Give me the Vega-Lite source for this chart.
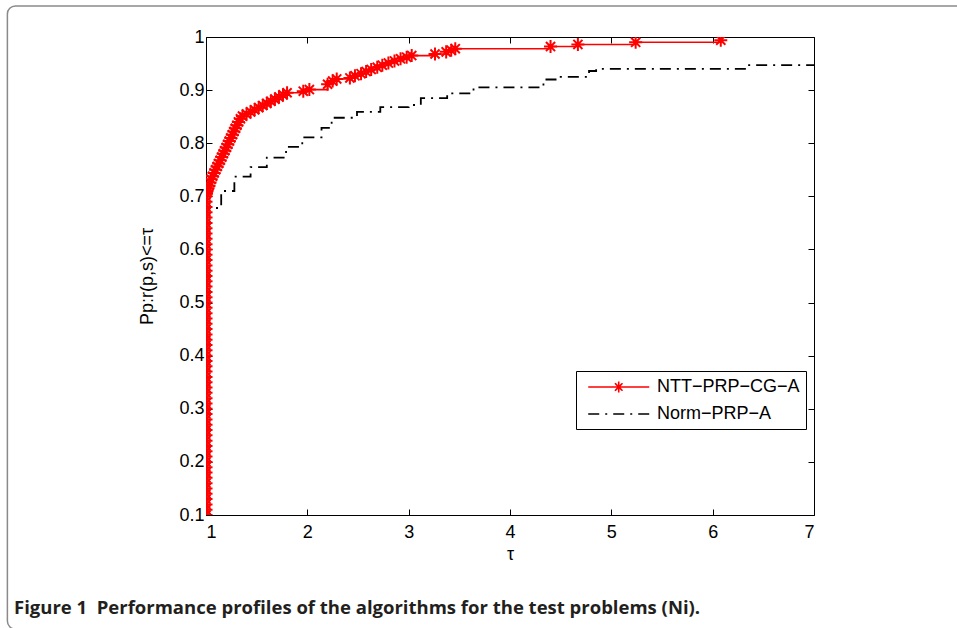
{
  "$schema": "https://vega.github.io/schema/vega-lite/v6.json",
  "width": 608,
  "height": 478,
  "autosize": {"type": "none"},
  "padding": {"left": 206, "top": 37, "right": 143, "bottom": 113},
  "background": "white",
  "config": {
    "view": {"stroke": "black", "strokeWidth": 1},
    "font": "Liberation Sans",
    "axis": {
      "domain": false, "grid": false, "tickColor": "black", "tickSize": -6, "tickWidth": 1,
      "labelColor": "black", "labelFont": "Liberation Sans", "labelFontSize": 18,
      "titleFont": "Liberation Sans", "titleFontSize": 18, "titleFontWeight": "normal", "titleColor": "black"
    }
  },
  "title": {
    "text": "Figure 1\u00a0\u00a0Performance profiles of the algorithms for the test problems (Ni).",
    "orient": "bottom", "anchor": "start", "frame": "group", "offset": -31, "dx": -192,
    "font": "Open Sans", "fontSize": 18.5, "fontWeight": "bold", "color": "#231f20"
  },
  "datasets": {
    "ntt": [
      {"tau": 1, "rho": 0.10}, {"tau": 1, "rho": 0.11}, {"tau": 1, "rho": 0.12}, {"tau": 1, "rho": 0.13}, {"tau": 1, "rho": 0.14},
      {"tau": 1, "rho": 0.15}, {"tau": 1, "rho": 0.16}, {"tau": 1, "rho": 0.17}, {"tau": 1, "rho": 0.18}, {"tau": 1, "rho": 0.19},
      {"tau": 1, "rho": 0.20}, {"tau": 1, "rho": 0.21}, {"tau": 1, "rho": 0.22}, {"tau": 1, "rho": 0.23}, {"tau": 1, "rho": 0.24},
      {"tau": 1, "rho": 0.25}, {"tau": 1, "rho": 0.26}, {"tau": 1, "rho": 0.27}, {"tau": 1, "rho": 0.28}, {"tau": 1, "rho": 0.29},
      {"tau": 1, "rho": 0.30}, {"tau": 1, "rho": 0.31}, {"tau": 1, "rho": 0.32}, {"tau": 1, "rho": 0.33}, {"tau": 1, "rho": 0.34},
      {"tau": 1, "rho": 0.35}, {"tau": 1, "rho": 0.36}, {"tau": 1, "rho": 0.37}, {"tau": 1, "rho": 0.38}, {"tau": 1, "rho": 0.39},
      {"tau": 1, "rho": 0.40}, {"tau": 1, "rho": 0.41}, {"tau": 1, "rho": 0.42}, {"tau": 1, "rho": 0.43}, {"tau": 1, "rho": 0.44},
      {"tau": 1, "rho": 0.45}, {"tau": 1, "rho": 0.46}, {"tau": 1, "rho": 0.47}, {"tau": 1, "rho": 0.48}, {"tau": 1, "rho": 0.49},
      {"tau": 1, "rho": 0.50}, {"tau": 1, "rho": 0.51}, {"tau": 1, "rho": 0.52}, {"tau": 1, "rho": 0.53}, {"tau": 1, "rho": 0.54},
      {"tau": 1, "rho": 0.55}, {"tau": 1, "rho": 0.56}, {"tau": 1, "rho": 0.57}, {"tau": 1, "rho": 0.58}, {"tau": 1, "rho": 0.59},
      {"tau": 1, "rho": 0.60}, {"tau": 1, "rho": 0.61}, {"tau": 1, "rho": 0.62}, {"tau": 1, "rho": 0.63}, {"tau": 1, "rho": 0.64},
      {"tau": 1, "rho": 0.65}, {"tau": 1, "rho": 0.66}, {"tau": 1, "rho": 0.67}, {"tau": 1, "rho": 0.68}, {"tau": 1, "rho": 0.69},
      {"tau": 1, "rho": 0.70},
      {"tau": 1.005, "rho": 0.705}, {"tau": 1.01, "rho": 0.71}, {"tau": 1.02, "rho": 0.715}, {"tau": 1.03, "rho": 0.72},
      {"tau": 1.04, "rho": 0.726}, {"tau": 1.05, "rho": 0.732}, {"tau": 1.065, "rho": 0.738}, {"tau": 1.08, "rho": 0.744},
      {"tau": 1.095, "rho": 0.75}, {"tau": 1.11, "rho": 0.756}, {"tau": 1.125, "rho": 0.762}, {"tau": 1.14, "rho": 0.768},
      {"tau": 1.155, "rho": 0.774}, {"tau": 1.17, "rho": 0.78}, {"tau": 1.185, "rho": 0.786}, {"tau": 1.2, "rho": 0.792},
      {"tau": 1.215, "rho": 0.798}, {"tau": 1.23, "rho": 0.804}, {"tau": 1.245, "rho": 0.81}, {"tau": 1.26, "rho": 0.816},
      {"tau": 1.275, "rho": 0.822}, {"tau": 1.29, "rho": 0.828}, {"tau": 1.305, "rho": 0.834}, {"tau": 1.32, "rho": 0.84},
      {"tau": 1.34, "rho": 0.846}, {"tau": 1.36, "rho": 0.851}, {"tau": 1.4, "rho": 0.855}, {"tau": 1.44, "rho": 0.859},
      {"tau": 1.48, "rho": 0.863}, {"tau": 1.52, "rho": 0.867}, {"tau": 1.56, "rho": 0.871}, {"tau": 1.6, "rho": 0.875},
      {"tau": 1.64, "rho": 0.879}, {"tau": 1.68, "rho": 0.883}, {"tau": 1.72, "rho": 0.887}, {"tau": 1.76, "rho": 0.891},
      {"tau": 1.8, "rho": 0.895}, {"tau": 1.96, "rho": 0.898}, {"tau": 2.02, "rho": 0.901}, {"tau": 2.2, "rho": 0.911},
      {"tau": 2.25, "rho": 0.917}, {"tau": 2.29, "rho": 0.921}, {"tau": 2.42, "rho": 0.923}, {"tau": 2.47, "rho": 0.927},
      {"tau": 2.53, "rho": 0.931}, {"tau": 2.58, "rho": 0.935}, {"tau": 2.63, "rho": 0.939}, {"tau": 2.69, "rho": 0.943},
      {"tau": 2.74, "rho": 0.947}, {"tau": 2.8, "rho": 0.951}, {"tau": 2.86, "rho": 0.955}, {"tau": 2.92, "rho": 0.959},
      {"tau": 2.98, "rho": 0.962}, {"tau": 3.03, "rho": 0.965}, {"tau": 3.26, "rho": 0.968}, {"tau": 3.37, "rho": 0.972},
      {"tau": 3.42, "rho": 0.975}, {"tau": 3.46, "rho": 0.978}, {"tau": 4.4, "rho": 0.982}, {"tau": 4.67, "rho": 0.986},
      {"tau": 5.24, "rho": 0.99}, {"tau": 6.08, "rho": 0.994}
    ],
    "norm": [
      {"tau": 1, "rho": 0.1}, {"tau": 1, "rho": 0.678}, {"tau": 1.15, "rho": 0.71}, {"tau": 1.28, "rho": 0.737},
      {"tau": 1.44, "rho": 0.755}, {"tau": 1.6, "rho": 0.773}, {"tau": 1.79, "rho": 0.793}, {"tau": 1.95, "rho": 0.811},
      {"tau": 2.14, "rho": 0.829}, {"tau": 2.24, "rho": 0.848}, {"tau": 2.49, "rho": 0.859}, {"tau": 2.72, "rho": 0.868},
      {"tau": 3.0, "rho": 0.872}, {"tau": 3.12, "rho": 0.885}, {"tau": 3.38, "rho": 0.894}, {"tau": 3.64, "rho": 0.905},
      {"tau": 4.33, "rho": 0.92}, {"tau": 4.5, "rho": 0.925}, {"tau": 4.78, "rho": 0.936}, {"tau": 4.85, "rho": 0.94},
      {"tau": 6.35, "rho": 0.947}, {"tau": 7, "rho": 0.947}
    ]
  },
  "resolve": {"axis": {"x": "independent", "y": "independent"}},
  "layer": [
    {
      "data": {"values": [{}]},
      "mark": {"type": "rect", "fill": null, "stroke": "#8a8a8a", "strokeWidth": 1.5, "cornerRadius": 8, "clip": false},
      "encoding": {
        "x": {"datum": -0.96, "type": "quantitative", "scale": {"domain": [1, 7], "nice": false, "zero": false}, "axis": null},
        "x2": {"datum": 8.6},
        "y": {"datum": 1.0584, "type": "quantitative", "scale": {"domain": [0.1, 1], "nice": false, "zero": false}, "axis": null},
        "y2": {"datum": -0.1147}
      }
    },
    {
      "data": {"name": "norm"},
      "transform": [{"calculate": "'Norm−PRP−A'", "as": "series"}],
      "mark": {"type": "line", "interpolate": "step-after", "strokeWidth": 1.8, "clip": true},
      "encoding": {
        "x": {"field": "tau", "type": "quantitative", "scale": {"domain": [1, 7], "nice": false, "zero": false},
              "axis": {"orient": "bottom", "values": [1, 2, 3, 4, 5, 6, 7], "title": "τ", "labelPadding": 14, "titlePadding": 4}},
        "y": {"field": "rho", "type": "quantitative", "scale": {"domain": [0.1, 1], "nice": false, "zero": false},
              "axis": {"orient": "left", "values": [0.1, 0.2, 0.3, 0.4, 0.5, 0.6, 0.7, 0.8, 0.9, 1], "format": "~g", "title": "Pp:r(p,s)<=τ", "labelPadding": 8, "titlePadding": 22}},
        "order": {"field": "rho", "type": "quantitative"},
        "color": {"field": "series", "type": "nominal",
          "scale": {"domain": ["NTT−PRP−CG−A", "Norm−PRP−A"], "range": ["#ff0000", "#000000"]},
          "legend": {
            "orient": "none", "legendX": 370, "legendY": 334, "title": null,
            "strokeColor": "black", "fillColor": "white", "padding": 6,
            "labelFont": "Liberation Sans", "labelFontSize": 18, "labelColor": "black", "labelLimit": 400, "labelOffset": 55,
            "symbolSize": 324, "symbolStrokeWidth": 1.6, "rowPadding": 8, "symbolOffset": 0,
            "encode": {
              "symbols": {
                "update": {
                  "shape": {"signal": "datum.value === 'NTT−PRP−CG−A' ? 'M-0.42,0H6.36M2.97,-0.6V0.6M2.55,-0.42L3.39,0.42M2.55,0.42L3.39,-0.42' : 'M-0.42,0H6.36'"},
                  "strokeDash": {"signal": "datum.value === 'Norm−PRP−A' ? [2, 5, 11, 5] : [1, 0]"},
                  "fill": {"value": "transparent"}
                }
              }
            }
          }},
        "strokeDash": {"field": "series", "type": "nominal", "scale": {"domain": ["NTT−PRP−CG−A", "Norm−PRP−A"], "range": [[1, 0], [11, 6, 2, 6]]}, "legend": null}
      }
    },
    {
      "data": {"name": "ntt"},
      "transform": [{"calculate": "'NTT−PRP−CG−A'", "as": "series"}],
      "mark": {"type": "line", "interpolate": "step-after", "strokeWidth": 1.6, "clip": true},
      "encoding": {
        "x": {"field": "tau", "type": "quantitative", "scale": {"domain": [1, 7], "nice": false, "zero": false},
              "axis": {"orient": "top", "values": [1, 2, 3, 4, 5, 6, 7], "labels": false, "title": null}},
        "y": {"field": "rho", "type": "quantitative", "scale": {"domain": [0.1, 1], "nice": false, "zero": false},
              "axis": {"orient": "right", "values": [0.1, 0.2, 0.3, 0.4, 0.5, 0.6, 0.7, 0.8, 0.9, 1], "labels": false, "title": null}},
        "order": {"field": "rho", "type": "quantitative"},
        "color": {"field": "series", "type": "nominal"},
        "strokeDash": {"field": "series", "type": "nominal", "legend": null}
      }
    },
    {
      "data": {"name": "ntt"},
      "transform": [{"calculate": "'NTT−PRP−CG−A'", "as": "series"}],
      "mark": {"type": "point", "shape": "M-1,0H1M0,-1V1M-0.7,-0.7L0.7,0.7M-0.7,0.7L0.7,-0.7", "filled": false, "size": 170, "strokeWidth": 2, "opacity": 1, "clip": true},
      "encoding": {
        "x": {"field": "tau", "type": "quantitative", "scale": {"domain": [1, 7], "nice": false, "zero": false}, "axis": null},
        "y": {"field": "rho", "type": "quantitative", "scale": {"domain": [0.1, 1], "nice": false, "zero": false}, "axis": null},
        "color": {"field": "series", "type": "nominal"}
      }
    }
  ]
}
